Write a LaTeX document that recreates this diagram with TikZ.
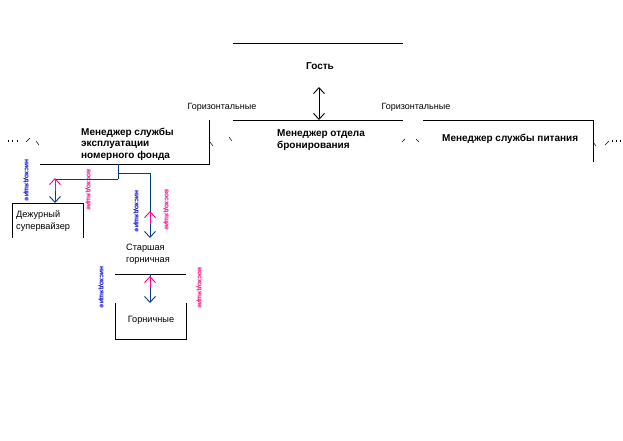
\documentclass[tikz,border=0pt]{standalone}
\usepackage{fontspec}
\setmainfont{Liberation Sans}
\usetikzlibrary{arrows.meta}
\definecolor{linkblue}{RGB}{0,61,140}
\definecolor{downblue}{RGB}{0,0,225}
\definecolor{uppink}{RGB}{255,0,128}
\tikzset{
  boldtext/.style = {align=left, inner sep=0pt, anchor=west,
    font=\bfseries\fontsize{10}{11.5}\selectfont},
  plaintext/.style = {align=left, inner sep=0pt, anchor=west,
    font=\fontsize{9.2}{12}\selectfont},
  smalltext/.style = {inner sep=0pt, font=\fontsize{9}{9}\selectfont},
  downlabel/.style = {inner sep=0pt, rotate=-90, text=downblue,
    font=\bfseries\fontsize{6.8}{7}\selectfont},
  uplabel/.style = {downlabel, text=uppink},
  frame/.style = {line width=0.9pt},
  link/.style = {line width=0.9pt, linkblue},
  uparrow/.style = {line width=0.9pt, uppink, -{Straight Barb[length=6pt,width=11pt]}},
  downarrow/.style = {link, -{Straight Barb[length=6pt,width=11pt]}},
  tick/.style = {line width=0.5pt}
}
\begin{document}
\begin{tikzpicture}[x=1pt, y=-1pt]
    \useasboundingbox (0,0) rectangle (623,440);
    % texts
    \node (guest) at (320,66) [boldtext, anchor=center] {Гость};
    \node (hleft) at (222,107) [smalltext] {Горизонтальные};
    \node (hright) at (416,107) [smalltext] {Горизонтальные};
    \node (hk) at (81,144) [boldtext] {Менеджер службы\\эксплуатации\\номерного фонда};
    \node (resv) at (277,140) [boldtext] {Менеджер отдела\\бронирования};
    \node (food) at (442,139) [boldtext] {Менеджер службы питания};
    \node (duty) at (16,221) [plaintext] {Дежурный\\супервайзер};
    \node (senior) at (126,254) [plaintext] {Старшая\\горничная};
    \node (maids) at (151,320) [plaintext, anchor=center] {Горничные};
    % rotated labels
    \node (d1) at (26,180) [downlabel] {нисходящие};
    \node (u1) at (88,190) [uplabel] {восходящие};
    \node (d2) at (136,211) [downlabel] {нисходящие};
    \node (u2) at (166,210) [uplabel] {восходящие};
    \node (d3) at (101,287) [downlabel] {нисходящие};
    \node (u3) at (199,288) [uplabel] {восходящие};
    % frame points
    \coordinate (gl) at (233,43);
    \coordinate (gr) at (403,43);
    \coordinate (ga) at (319,87);
    \coordinate (gb) at (319,120);
    \coordinate (rl) at (233,120);
    \coordinate (rr) at (403,120);
    \coordinate (fl) at (423,120);
    \coordinate (fr) at (593,120);
    \coordinate (fd) at (593,162);
    \coordinate (ht) at (209,120);
    \coordinate (hc) at (209,164);
    \coordinate (hl) at (40,164);
    \coordinate (j0) at (118,164);
    \coordinate (j1) at (118,179);
    \coordinate (j2) at (118,173);
    \coordinate (a1) at (55,179);
    \coordinate (b1) at (55,203);
    \coordinate (p1) at (55,191);
    \coordinate (q1) at (55,178);
    \coordinate (a2) at (150,173);
    \coordinate (b2) at (150,238);
    \coordinate (p2) at (150,224);
    \coordinate (q2) at (150,211);
    \coordinate (sl) at (115,274);
    \coordinate (sr) at (186,274);
    \coordinate (a3) at (150,274);
    \coordinate (b3) at (150,303);
    \coordinate (p3) at (150,288);
    \coordinate (q3) at (150,276);
    % black frames
    \draw [frame] (gl) -- (gr);
    \draw [frame, {Straight Barb[length=6pt,width=11pt]}-{Straight Barb[length=6pt,width=11pt]}] (ga) -- (gb);
    \draw [frame] (rl) -- (rr);
    \draw [frame] (fl) -- (fr) -- (fd);
    \draw [frame] (ht) -- (hc) -- (hl);
    \draw [frame] (12,238) -- (12,203) -- (83,203) -- (83,238);
    \draw [frame] (sl) -- (sr);
    \draw [frame] (115,303) -- (115,339) -- (186,339) -- (186,303);
    % blue links
    \draw [link] (j0) -- (j1);
    \draw [downarrow] (j1) -- (a1) -- (b1);
    \draw [downarrow] (j2) -- (a2) -- (b2);
    \draw [downarrow] (a3) -- (b3);
    \draw [uparrow] (p1) -- (q1);
    \draw [uparrow] (p2) -- (q2);
    \draw [uparrow] (p3) -- (q3);
    % small marks
    \foreach \x in {8,12,17}
        \draw [tick] (\x,140) -- (\x,142);
    \draw [tick] (26,142) -- (30,138);
    \draw [tick] (36,141) -- (39,145);
    \draw [tick] (210,142) -- (213,146);
    \draw [tick] (229,137) -- (232,141);
    \draw [tick] (402,142) -- (405,139);
    \draw [tick] (416,139) -- (419,142);
    \draw [tick] (593,142) -- (596,146);
    \draw [tick] (605,145) -- (609,141);
    \foreach \x in {612,616,620}
        \draw [tick] (\x,140) -- (\x,141.5);
\end{tikzpicture}
\end{document}
